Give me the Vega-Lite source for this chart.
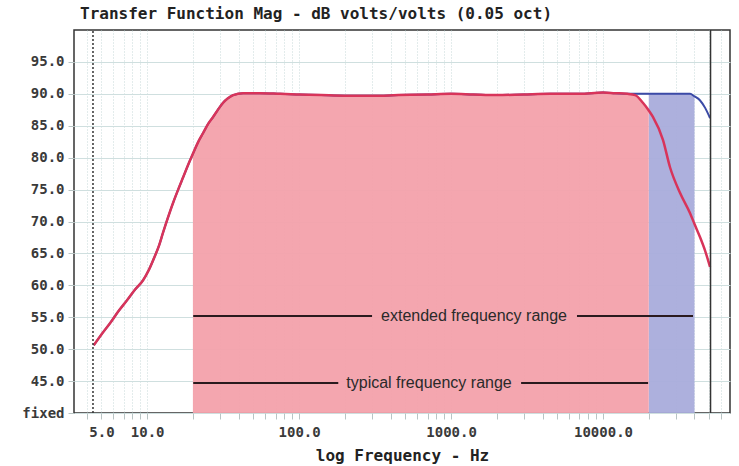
{
  "$schema": "https://vega.github.io/schema/vega-lite/v6.json",
  "width": 656,
  "height": 383,
  "autosize": {"type": "none"},
  "padding": {"left": 74, "top": 30, "right": 9, "bottom": 53},
  "background": "white",
  "title": {
    "text": "Transfer Function Mag - dB volts/volts (0.05 oct)",
    "anchor": "start", "frame": "group", "dx": 6, "offset": 7,
    "font": "DejaVu Sans Mono", "fontSize": 16, "fontWeight": "bold", "color": "#222"
  },
  "config": {
    "view": {"stroke": "#333", "strokeWidth": 1.5},
    "axis": {
      "labelFont": "DejaVu Sans Mono", "labelFontWeight": "bold", "labelFontSize": 14, "labelColor": "#3a3a3a",
      "titleFont": "DejaVu Sans Mono", "titleFontWeight": "bold", "titleFontSize": 16, "titleColor": "#222",
      "domain": false, "tickColor": "#b8c4c4", "tickSize": 6, "labelOverlap": false
    },
    "axisY": {"values": [40,45,50,55,60,65,70,75,80,85,90,95]}
  },
  "datasets": {
    "red": [
      {"f": 4.45, "db": 50.6}, {"f": 5.0, "db": 52.3}, {"f": 5.71, "db": 54.1}, {"f": 6.5, "db": 56.0},
      {"f": 7.39, "db": 57.7}, {"f": 8.3, "db": 59.3}, {"f": 9.4, "db": 60.8}, {"f": 10.3, "db": 62.5},
      {"f": 11.2, "db": 64.5}, {"f": 12.0, "db": 66.3}, {"f": 12.7, "db": 68.2}, {"f": 13.7, "db": 70.6},
      {"f": 14.8, "db": 72.9}, {"f": 16.0, "db": 75.0}, {"f": 17.3, "db": 77.0}, {"f": 18.7, "db": 79.0},
      {"f": 20, "db": 80.6}, {"f": 21.6, "db": 82.4}, {"f": 23.4, "db": 83.9}, {"f": 25.2, "db": 85.3},
      {"f": 27.2, "db": 86.4}, {"f": 29.4, "db": 87.6}, {"f": 31.6, "db": 88.6}, {"f": 34, "db": 89.3},
      {"f": 36.8, "db": 89.8}, {"f": 42.8, "db": 90.1}, {"f": 55, "db": 90.1}, {"f": 75, "db": 90.0},
      {"f": 100, "db": 89.9}, {"f": 140, "db": 89.8}, {"f": 200, "db": 89.7}, {"f": 300, "db": 89.7},
      {"f": 450, "db": 89.8}, {"f": 700, "db": 89.9}, {"f": 1000, "db": 90.0}, {"f": 1400, "db": 89.9},
      {"f": 2000, "db": 89.8}, {"f": 3000, "db": 89.9}, {"f": 4500, "db": 90.0}, {"f": 7000, "db": 90.0},
      {"f": 10000, "db": 90.2}, {"f": 12000, "db": 90.1}, {"f": 14500, "db": 90.0}, {"f": 16300, "db": 89.8},
      {"f": 18300, "db": 88.6}, {"f": 20000, "db": 87.4}, {"f": 21300, "db": 86.4}, {"f": 24800, "db": 82.8},
      {"f": 27600, "db": 78.5}, {"f": 32100, "db": 74.5}, {"f": 37400, "db": 71.3}, {"f": 40000, "db": 69.6},
      {"f": 43400, "db": 67.6}, {"f": 47000, "db": 65.4}, {"f": 50600, "db": 62.9}
    ],
    "blue": [
      {"f": 4.45, "db": 50.6}, {"f": 5.0, "db": 52.3}, {"f": 5.71, "db": 54.1}, {"f": 6.5, "db": 56.0},
      {"f": 7.39, "db": 57.7}, {"f": 8.3, "db": 59.3}, {"f": 9.4, "db": 60.8}, {"f": 10.3, "db": 62.5},
      {"f": 11.2, "db": 64.5}, {"f": 12.0, "db": 66.3}, {"f": 12.7, "db": 68.2}, {"f": 13.7, "db": 70.6},
      {"f": 14.8, "db": 72.9}, {"f": 16.0, "db": 75.0}, {"f": 17.3, "db": 77.0}, {"f": 18.7, "db": 79.0},
      {"f": 20, "db": 80.6}, {"f": 21.6, "db": 82.4}, {"f": 23.4, "db": 83.9}, {"f": 25.2, "db": 85.3},
      {"f": 27.2, "db": 86.4}, {"f": 29.4, "db": 87.6}, {"f": 31.6, "db": 88.6}, {"f": 34, "db": 89.3},
      {"f": 36.8, "db": 89.8}, {"f": 42.8, "db": 90.1}, {"f": 55, "db": 90.1}, {"f": 75, "db": 90.0},
      {"f": 100, "db": 89.9}, {"f": 140, "db": 89.8}, {"f": 200, "db": 89.7}, {"f": 300, "db": 89.7},
      {"f": 450, "db": 89.8}, {"f": 700, "db": 89.9}, {"f": 1000, "db": 90.0}, {"f": 1400, "db": 89.9},
      {"f": 2000, "db": 89.8}, {"f": 3000, "db": 89.9}, {"f": 4500, "db": 90.0}, {"f": 7000, "db": 90.0},
      {"f": 10000, "db": 90.2}, {"f": 12000, "db": 90.1}, {"f": 14500, "db": 90.0}, {"f": 16300, "db": 90.0},
      {"f": 18300, "db": 90.0}, {"f": 20000, "db": 90.0}, {"f": 24800, "db": 90.0}, {"f": 32100, "db": 90.0},
      {"f": 37400, "db": 90.0}, {"f": 40000, "db": 89.6}, {"f": 43400, "db": 89.0}, {"f": 47000, "db": 87.8},
      {"f": 50600, "db": 86.2}
    ],
    "vlines": [
      {"f": 4.4, "db": 40, "db2": 100, "kind": "dotted"},
      {"f": 51000, "db": 40, "db2": 100, "kind": "solid"}
    ],
    "segs": [
      {"f": 20.1, "f2": 302, "db": 55.2},
      {"f": 6740, "f2": 39100, "db": 55.2},
      {"f": 20.1, "f2": 181, "db": 44.7},
      {"f": 2890, "f2": 19800, "db": 44.7}
    ],
    "labels": [
      {"f": 1416, "db": 55.2, "text": "extended frequency range"},
      {"f": 716, "db": 44.7, "text": "typical frequency range"}
    ]
  },
  "encoding": {
    "x": {
      "field": "f", "type": "quantitative",
      "scale": {"type": "log", "domain": [3.3, 68500], "nice": false},
      "title": "log Frequency - Hz",
      "axis": {
        "values": [4,5,6,7,8,9,10,20,30,40,50,60,70,80,90,100,200,300,400,500,600,700,800,900,1000,2000,3000,4000,5000,6000,7000,8000,9000,10000,20000,30000,40000,50000,60000],
        "labelExpr": "(datum.value == 5 || datum.value == 10 || datum.value == 100 || datum.value == 1000 || datum.value == 10000) ? format(datum.value, '.1f') : ''",
        "labelPadding": 6, "titlePadding": 8,
        "grid": true, "gridColor": "#b9cfcf", "gridDash": [1, 2], "gridOpacity": 0.8,
        "labelFlush": false, "labelOverlap": false
      }
    },
    "y": {
      "field": "db", "type": "quantitative",
      "scale": {"domain": [40, 100], "zero": false, "nice": false},
      "title": null,
      "axis": {
        "values": [40,45,50,55,60,65,70,75,80,85,90,95],
        "labelExpr": "datum.value == 40 ? 'fixed' : format(datum.value, '.1f')",
        "labelPadding": 4, "labelOverlap": false,
        "grid": true, "gridColor": "#cfdfdf"
      }
    }
  },
  "layer": [
    {
      "data": {"name": "blue"},
      "transform": [{"filter": "datum.f >= 20000 && datum.f <= 40000"}],
      "mark": {"type": "area", "color": "#a9acdb", "opacity": 0.95},
      "encoding": {"y2": {"datum": 40}}
    },
    {
      "data": {"name": "red"},
      "transform": [{"filter": "datum.f >= 20 && datum.f <= 20000"}],
      "mark": {"type": "area", "color": "#f3a1ab", "opacity": 0.95},
      "encoding": {"y2": {"datum": 40}}
    },
    {
      "data": {"name": "blue"},
      "mark": {"type": "line", "color": "#3b4aa6", "strokeWidth": 2, "interpolate": "monotone"},
      "encoding": {}
    },
    {
      "data": {"name": "red"},
      "mark": {"type": "line", "color": "#d8345a", "strokeWidth": 2.5, "interpolate": "monotone"},
      "encoding": {}
    },
    {
      "data": {"name": "vlines"},
      "transform": [{"filter": "datum.kind == 'dotted'"}],
      "mark": {"type": "rule", "color": "#333", "strokeWidth": 1.5, "strokeDash": [2, 2]},
      "encoding": {"y2": {"field": "db2"}}
    },
    {
      "data": {"name": "vlines"},
      "transform": [{"filter": "datum.kind == 'solid'"}],
      "mark": {"type": "rule", "color": "#333", "strokeWidth": 1.5},
      "encoding": {"y2": {"field": "db2"}}
    },
    {
      "data": {"name": "segs"},
      "mark": {"type": "rule", "color": "#2a1a1e", "strokeWidth": 2},
      "encoding": {"x2": {"field": "f2"}}
    },
    {
      "data": {"name": "labels"},
      "mark": {"type": "text", "font": "Liberation Sans", "fontSize": 16, "color": "#2a2a2a", "align": "center", "baseline": "middle"},
      "encoding": {"text": {"field": "text"}}
    }
  ]
}
